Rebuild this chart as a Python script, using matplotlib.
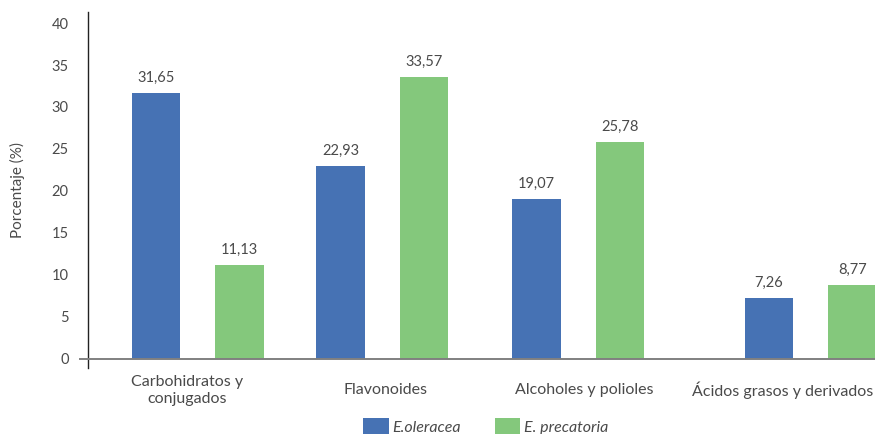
import matplotlib
matplotlib.use("Agg")
import matplotlib.pyplot as plt
from matplotlib.patches import Patch
from matplotlib.lines import Line2D
import numpy as np

plt.rcParams['font.family'] = ['Lato', 'DejaVu Sans']

categories = ["Carbohidratos y\nconjugados", "Flavonoides", "Alcoholes y polioles",
              "Ácidos grasos y derivados"]
oleracea = [31.65, 22.93, 19.07, 7.26]
precatoria = [11.13, 33.57, 25.78, 8.77]
series_names = ["E.oleracea", "E. precatoria"]
yticks = [0, 5, 10, 15, 20, 25, 30, 35, 40]

# layout: horizontal shift of each bar pair from its category centre, and half-gap
pair_shift = [0.053, -0.018, -0.030, 0.141]
half_gap = 0.21
bar_width = 0.245

blue = "#4672B4"
green = "#84C87C"
text_col = "#4a4a4a"

fig = plt.figure(figsize=(8.75, 4.34), dpi=100)
ax = fig.add_axes([0.1006, 0.152, 0.9074, 0.820])

x = np.arange(len(categories)) + np.array(pair_shift)
b1 = ax.bar(x - half_gap, oleracea, width=bar_width, color=blue, zorder=2)
b2 = ax.bar(x + half_gap, precatoria, width=bar_width, color=green, zorder=2)

for bars, vals in ((b1, oleracea), (b2, precatoria)):
    for rect, v in zip(bars, vals):
        ax.annotate(f"{v:.2f}".replace(".", ","),
                    (rect.get_x() + rect.get_width() / 2, v),
                    xytext=(0, 6), textcoords="offset points",
                    ha="center", va="bottom", fontsize=10.5, color=text_col)

ax.set_xlim(-0.5, 3.5)
ax.set_ylim(-1.1, 41.3)
ax.set_yticks(yticks)
ax.set_yticklabels([str(t) for t in yticks], fontsize=10.5, color=text_col)
ax.set_xticks(np.arange(len(categories)))
ax.set_xticklabels(categories, fontsize=11.5, color=text_col, linespacing=1.25,
                   va="center")
ax.tick_params(axis="both", length=0)
ax.tick_params(axis="y", pad=14)
ax.tick_params(axis="x", pad=16)

for s in ("top", "right", "bottom"):
    ax.spines[s].set_visible(False)
ax.spines["left"].set_color("#222222")
ax.spines["left"].set_linewidth(1.0)

# zero baseline, reaching slightly left of the value axis
ax.add_line(Line2D([-0.01, 1.0], [0, 0], transform=ax.get_yaxis_transform(),
                   color="#808080", lw=1.4, clip_on=False, zorder=3))

ax.set_ylabel("Porcentaje (%)", fontsize=11, color=text_col)
ax.yaxis.set_label_coords(-0.079, 0.5)

handles = [Patch(facecolor=blue, edgecolor="none"), Patch(facecolor=green, edgecolor="none")]
fig.legend(handles, series_names, loc="upper left", bbox_to_anchor=(0.415, 0.038),
           ncol=2, frameon=False, handlelength=1.6, handleheight=1.3,
           columnspacing=2.1, handletextpad=0.25, borderaxespad=0, borderpad=0,
           prop={"style": "italic", "size": 11.5}, labelcolor=text_col)

fig.savefig("out.png", dpi=100)
